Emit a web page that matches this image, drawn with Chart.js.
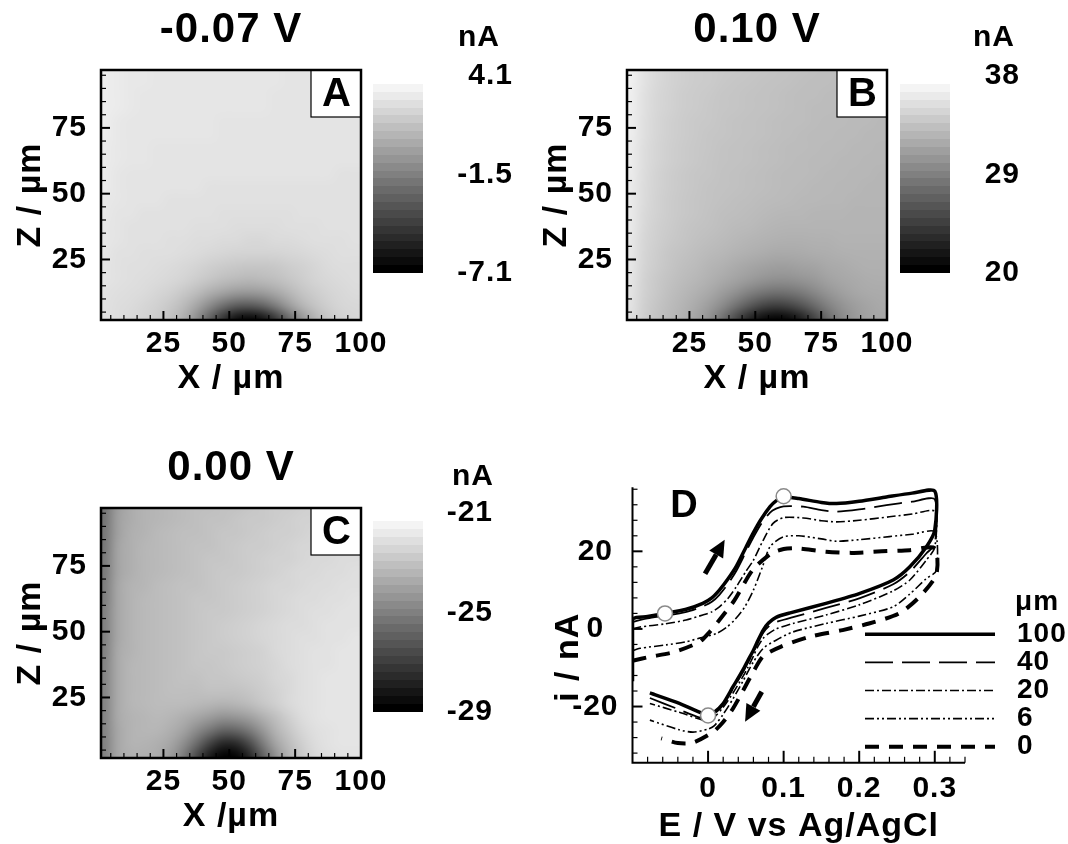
<!DOCTYPE html>
<html>
<head>
<meta charset="utf-8">
<script src="https://cdn.jsdelivr.net/npm/chart.js"></script>
<style>
  body { margin: 0; background: #fff; }
  #fig { position: relative; width: 1068px; height: 844px; overflow: hidden; background: #fff; }
  canvas { position: absolute; }
</style>
</head>
<body>
<div id="fig">
  <canvas id="mapA" width="400" height="405" style="left:0;top:0"></canvas>
  <canvas id="barA" width="140" height="318" style="left:373px;top:0"></canvas>
  <canvas id="mapB" width="400" height="405" style="left:526px;top:0"></canvas>
  <canvas id="barB" width="120" height="318" style="left:900px;top:0"></canvas>
  <canvas id="mapC" width="400" height="405" style="left:0;top:438px"></canvas>
  <canvas id="barC" width="120" height="320" style="left:373px;top:437px"></canvas>
  <canvas id="cv" width="528" height="378" style="left:540px;top:466px"></canvas>
</div>
<script>
// SECM images, nA. 5 um cells: rows from Z = 97.5 down to Z = 2.5, columns X = 2.5 ... 97.5
const mapA = [
  [3.3,3.2,3.1,3.1,3.0,3.0,3.0,3.0,3.0,3.0,3.0,3.0,3.0,3.0,2.9,2.9,2.9,2.9,2.9,2.9],
  [3.3,3.2,3.1,3.1,3.0,3.0,3.0,3.0,3.0,3.0,3.0,3.0,3.0,3.0,2.9,2.9,2.9,2.9,2.9,2.9],
  [3.3,3.2,3.1,3.0,3.0,3.0,3.0,3.0,3.0,3.0,3.0,3.0,3.0,2.9,2.9,2.9,2.9,2.9,2.9,2.9],
  [3.3,3.2,3.1,3.0,3.0,3.0,3.0,3.0,3.0,3.0,3.0,3.0,3.0,2.9,2.9,2.9,2.9,2.9,2.9,2.9],
  [3.3,3.1,3.0,3.0,3.0,3.0,3.0,3.0,3.0,2.9,2.9,2.9,2.9,2.9,2.9,2.9,2.9,2.9,2.9,2.9],
  [3.3,3.1,3.0,3.0,3.0,3.0,3.0,3.0,3.0,2.9,2.9,2.9,2.9,2.9,2.9,2.9,2.9,2.9,2.9,2.9],
  [3.2,3.1,3.0,3.0,2.9,2.9,2.9,2.9,2.9,2.9,2.9,2.9,2.9,2.9,2.9,2.9,2.9,2.9,2.9,2.9],
  [3.2,3.1,3.0,3.0,2.9,2.9,2.9,2.9,2.9,2.9,2.9,2.9,2.9,2.9,2.9,2.9,2.9,2.9,2.9,2.9],
  [3.2,3.0,2.9,2.9,2.9,2.9,2.9,2.9,2.9,2.9,2.9,2.9,2.9,2.9,2.9,2.9,2.9,2.9,2.8,2.8],
  [3.2,3.0,2.9,2.9,2.9,2.9,2.9,2.9,2.8,2.8,2.8,2.8,2.8,2.8,2.8,2.8,2.8,2.8,2.8,2.8],
  [3.1,3.0,2.9,2.9,2.9,2.8,2.8,2.8,2.8,2.8,2.8,2.8,2.8,2.8,2.8,2.8,2.8,2.8,2.8,2.8],
  [3.1,2.9,2.9,2.8,2.8,2.8,2.8,2.8,2.8,2.7,2.7,2.7,2.7,2.7,2.7,2.8,2.8,2.8,2.8,2.8],
  [3.0,2.9,2.8,2.8,2.8,2.8,2.8,2.7,2.7,2.7,2.6,2.6,2.6,2.6,2.7,2.7,2.7,2.8,2.8,2.8],
  [3.0,2.9,2.8,2.8,2.8,2.7,2.7,2.6,2.6,2.5,2.5,2.4,2.4,2.5,2.5,2.6,2.7,2.7,2.7,2.8],
  [3.0,2.8,2.8,2.7,2.7,2.7,2.6,2.5,2.4,2.3,2.2,2.2,2.2,2.2,2.3,2.4,2.5,2.6,2.7,2.7],
  [2.9,2.8,2.7,2.7,2.6,2.5,2.4,2.2,2.0,1.8,1.7,1.6,1.6,1.7,1.9,2.1,2.3,2.5,2.6,2.6],
  [2.9,2.8,2.7,2.6,2.5,2.4,2.2,1.9,1.6,1.3,1.1,1.0,1.1,1.3,1.6,1.9,2.2,2.4,2.5,2.6],
  [2.8,2.7,2.6,2.5,2.3,2.1,1.7,1.2,0.6,0.1,-0.3,-0.4,-0.2,0.3,0.9,1.5,1.9,2.2,2.4,2.5],
  [2.8,2.6,2.5,2.3,2.1,1.7,1.1,0.2,-1.0,-2.2,-3.0,-3.2,-2.7,-1.6,-0.3,0.8,1.5,2.0,2.3,2.4],
  [2.7,2.6,2.4,2.2,1.9,1.4,0.6,-0.8,-2.8,-4.8,-6.4,-6.9,-6.3,-4.7,-2.5,-0.6,0.8,1.6,2.1,2.3]
];
const mapB = [
  [37.0,36.0,35.3,34.9,34.6,34.4,34.3,34.2,34.1,34.0,33.9,33.8,33.7,33.6,33.5,33.4,33.4,33.3,33.3,33.2],
  [37.0,36.0,35.3,34.9,34.6,34.4,34.3,34.1,34.0,33.9,33.8,33.7,33.6,33.5,33.4,33.4,33.3,33.3,33.2,33.2],
  [36.9,35.9,35.2,34.8,34.5,34.3,34.2,34.0,33.9,33.8,33.7,33.6,33.5,33.4,33.4,33.3,33.3,33.2,33.2,33.1],
  [36.9,35.9,35.2,34.8,34.5,34.3,34.1,34.0,33.9,33.8,33.7,33.6,33.5,33.4,33.3,33.3,33.2,33.2,33.1,33.1],
  [36.8,35.8,35.1,34.7,34.4,34.2,34.1,33.9,33.8,33.7,33.6,33.5,33.4,33.4,33.3,33.2,33.2,33.1,33.1,33.0],
  [36.8,35.8,35.1,34.7,34.4,34.2,34.0,33.9,33.8,33.7,33.6,33.5,33.4,33.3,33.2,33.2,33.1,33.1,33.0,33.0],
  [36.7,35.7,35.0,34.6,34.3,34.1,34.0,33.8,33.7,33.6,33.5,33.4,33.3,33.3,33.2,33.1,33.1,33.0,33.0,32.9],
  [36.7,35.7,35.0,34.6,34.3,34.1,33.9,33.8,33.7,33.6,33.5,33.4,33.3,33.2,33.1,33.1,33.0,33.0,32.9,32.9],
  [36.6,35.6,34.9,34.5,34.2,34.0,33.9,33.7,33.6,33.5,33.4,33.3,33.2,33.2,33.1,33.0,33.0,32.9,32.9,32.8],
  [36.6,35.5,34.9,34.5,34.2,34.0,33.8,33.7,33.6,33.5,33.4,33.3,33.2,33.1,33.0,33.0,32.9,32.9,32.8,32.8],
  [36.6,35.5,34.8,34.4,34.1,33.9,33.8,33.6,33.5,33.4,33.3,33.2,33.1,33.0,33.0,32.9,32.9,32.8,32.8,32.8],
  [36.5,35.4,34.8,34.4,34.1,33.9,33.7,33.5,33.4,33.3,33.1,33.0,32.9,32.9,32.8,32.8,32.8,32.7,32.7,32.7],
  [36.5,35.3,34.7,34.3,34.0,33.8,33.6,33.4,33.2,33.1,32.9,32.8,32.7,32.7,32.7,32.7,32.7,32.7,32.7,32.7],
  [36.4,35.2,34.6,34.2,33.9,33.6,33.4,33.2,33.0,32.8,32.6,32.5,32.4,32.4,32.5,32.5,32.6,32.6,32.6,32.6],
  [36.4,35.1,34.5,34.0,33.7,33.4,33.1,32.9,32.6,32.4,32.2,32.0,32.0,32.1,32.2,32.3,32.4,32.5,32.5,32.5],
  [36.3,35.0,34.4,33.9,33.5,33.2,32.8,32.5,32.1,31.7,31.4,31.2,31.2,31.4,31.6,31.9,32.1,32.3,32.4,32.4],
  [36.2,34.9,34.2,33.7,33.3,32.9,32.5,32.0,31.5,31.0,30.5,30.2,30.2,30.5,30.9,31.4,31.8,32.0,32.2,32.3],
  [36.1,34.8,34.1,33.5,33.0,32.5,31.9,31.1,30.2,29.2,28.4,28.0,28.1,28.7,29.6,30.5,31.2,31.7,32.0,32.1],
  [36.0,34.7,33.9,33.3,32.7,32.0,31.1,29.8,28.1,26.4,25.0,24.4,24.8,25.9,27.5,29.1,30.3,31.1,31.6,31.9],
  [35.9,34.6,33.8,33.1,32.5,31.6,30.2,28.0,25.2,22.7,20.9,20.2,20.6,22.2,24.8,27.5,29.5,30.7,31.4,31.7]
];
const mapC = [
  [-25.4,-24.1,-23.6,-23.4,-23.3,-23.2,-23.1,-23.0,-23.0,-22.9,-22.9,-22.8,-22.7,-22.6,-22.6,-22.5,-22.4,-22.4,-22.3,-22.3],
  [-25.4,-24.0,-23.6,-23.4,-23.3,-23.2,-23.1,-23.0,-22.9,-22.9,-22.8,-22.7,-22.7,-22.6,-22.5,-22.4,-22.4,-22.3,-22.3,-22.2],
  [-25.3,-24.0,-23.5,-23.4,-23.2,-23.1,-23.0,-23.0,-22.9,-22.8,-22.8,-22.7,-22.6,-22.5,-22.5,-22.4,-22.3,-22.3,-22.2,-22.2],
  [-25.3,-23.9,-23.5,-23.3,-23.2,-23.1,-23.0,-22.9,-22.9,-22.8,-22.7,-22.6,-22.6,-22.5,-22.4,-22.3,-22.3,-22.2,-22.2,-22.1],
  [-25.2,-23.9,-23.5,-23.3,-23.2,-23.1,-23.0,-22.9,-22.8,-22.8,-22.7,-22.6,-22.5,-22.4,-22.4,-22.3,-22.2,-22.2,-22.1,-22.1],
  [-25.2,-23.9,-23.5,-23.3,-23.2,-23.1,-23.0,-22.9,-22.8,-22.7,-22.7,-22.6,-22.5,-22.4,-22.3,-22.2,-22.2,-22.1,-22.1,-22.0],
  [-25.1,-23.8,-23.4,-23.3,-23.1,-23.0,-22.9,-22.9,-22.8,-22.7,-22.6,-22.5,-22.4,-22.3,-22.3,-22.2,-22.1,-22.1,-22.0,-22.0],
  [-25.1,-23.8,-23.4,-23.2,-23.1,-23.0,-22.9,-22.8,-22.8,-22.7,-22.6,-22.5,-22.4,-22.3,-22.2,-22.1,-22.1,-22.0,-22.0,-21.9],
  [-25.0,-23.8,-23.4,-23.2,-23.1,-23.0,-22.9,-22.8,-22.7,-22.7,-22.6,-22.5,-22.4,-22.3,-22.2,-22.1,-22.0,-22.0,-21.9,-21.9],
  [-25.0,-23.8,-23.4,-23.2,-23.1,-23.0,-22.9,-22.8,-22.7,-22.6,-22.5,-22.4,-22.3,-22.2,-22.1,-22.1,-22.0,-21.9,-21.9,-21.9],
  [-25.0,-23.8,-23.4,-23.2,-23.1,-23.0,-22.9,-22.8,-22.7,-22.6,-22.5,-22.4,-22.3,-22.2,-22.1,-22.0,-22.0,-21.9,-21.9,-21.8],
  [-25.0,-23.7,-23.4,-23.2,-23.1,-23.0,-22.9,-22.8,-22.7,-22.7,-22.6,-22.5,-22.4,-22.2,-22.1,-22.0,-21.9,-21.9,-21.8,-21.8],
  [-24.9,-23.7,-23.3,-23.2,-23.1,-23.0,-22.9,-22.8,-22.8,-22.7,-22.6,-22.5,-22.4,-22.3,-22.1,-22.0,-21.9,-21.9,-21.8,-21.8],
  [-24.9,-23.7,-23.3,-23.2,-23.1,-23.0,-22.9,-22.9,-22.8,-22.8,-22.7,-22.6,-22.5,-22.3,-22.2,-22.0,-21.9,-21.8,-21.8,-21.8],
  [-24.9,-23.7,-23.3,-23.2,-23.1,-23.0,-23.0,-23.0,-22.9,-22.9,-22.9,-22.8,-22.6,-22.4,-22.2,-22.0,-21.9,-21.8,-21.8,-21.8],
  [-24.9,-23.7,-23.3,-23.2,-23.1,-23.1,-23.1,-23.2,-23.3,-23.4,-23.3,-23.1,-22.8,-22.5,-22.2,-22.0,-21.9,-21.8,-21.8,-21.8],
  [-24.9,-23.7,-23.4,-23.3,-23.2,-23.3,-23.5,-23.8,-24.1,-24.4,-24.3,-24.0,-23.5,-23.0,-22.5,-22.1,-21.9,-21.8,-21.8,-21.8],
  [-24.9,-23.8,-23.4,-23.3,-23.3,-23.5,-23.9,-24.6,-25.3,-25.9,-25.8,-25.2,-24.3,-23.4,-22.8,-22.3,-22.0,-21.9,-21.8,-21.8],
  [-25.0,-23.8,-23.4,-23.4,-23.5,-23.8,-24.5,-25.6,-26.9,-27.8,-27.7,-26.7,-25.2,-23.9,-23.1,-22.5,-22.1,-21.9,-21.8,-21.8],
  [-25.0,-23.8,-23.5,-23.5,-23.6,-24.1,-25.1,-26.7,-28.2,-29.0,-28.9,-27.9,-26.1,-24.5,-23.4,-22.7,-22.2,-22.0,-21.9,-21.9]
];
const barTicksA = [-7.1, -1.5, 4.1];
const barTicksB = [20, 29, 38];
const barTicksC = [-29, -25, -21];
const mapTicksX = [25, 50, 75, 100];
const mapTicksZ = [25, 50, 75];

// cyclic voltammograms at several tip-substrate distances (E in V, i in nA)
const depthLabels = ['100', '40', '20', '6', '0'];
const e100 = [-0.1, -0.1, -0.08, -0.057, -0.03, -0.007, 0.005, 0.015, 0.026, 0.0375, 0.05, 0.06, 0.07, 0.082, 0.09, 0.1, 0.12, 0.15, 0.17, 0.2, 0.236, 0.27, 0.3, 0.3, 0.289, 0.267, 0.245, 0.2, 0.156, 0.11, 0.09, 0.08, 0.073, 0.066, 0.06, 0.053, 0.046, 0.033, 0.02, 0.008, 0.0, -0.038, -0.077];
const i100 = [-13.5, 2.4, 3.2, 4.0, 5.0, 6.6, 8.0, 10.0, 12.8, 16.2, 21.0, 24.8, 28.2, 31.5, 33.0, 34.0, 33.6, 32.6, 32.3, 32.9, 34.0, 35.0, 35.5, 25.5, 21.2, 16.0, 12.6, 9.1, 6.6, 4.2, 3.0, 1.5, -0.3, -3.0, -5.5, -8.0, -10.6, -14.9, -19.2, -21.5, -22.3, -19.2, -16.5];
const e40 = [-0.1, -0.08, -0.057, -0.03, -0.007, 0.005, 0.015, 0.026, 0.0375, 0.05, 0.06, 0.07, 0.082, 0.09, 0.1, 0.126, 0.15, 0.17, 0.2, 0.236, 0.27, 0.3, 0.3, 0.289, 0.267, 0.245, 0.2, 0.156, 0.11, 0.09, 0.08, 0.073, 0.066, 0.06, 0.053, 0.046, 0.033, 0.02, 0.008, 0.0, -0.015, -0.038, -0.077];
const i40 = [1.8, 2.7, 3.4, 4.3, 5.8, 7.0, 8.8, 11.5, 15.0, 19.8, 23.6, 27.0, 30.0, 31.0, 31.6, 31.5, 30.6, 30.2, 30.8, 31.9, 32.8, 33.4, 21.8, 19.5, 14.7, 11.5, 7.9, 5.4, 2.9, 1.8, 0.6, -1.0, -3.5, -6.0, -8.6, -11.2, -15.4, -19.6, -22.0, -23.3, -22.6, -20.8, -17.8];
const e20 = [-0.1, -0.09, -0.057, -0.029, -0.007, 0.005, 0.015, 0.026, 0.0375, 0.05, 0.06, 0.072, 0.086, 0.1, 0.126, 0.15, 0.17, 0.2, 0.24, 0.27, 0.3, 0.3, 0.289, 0.267, 0.245, 0.2, 0.156, 0.112, 0.09, 0.08, 0.073, 0.066, 0.06, 0.053, 0.046, 0.033, 0.02, 0.008, 0.0, -0.038, -0.077];
const i20 = [0.0, 0.5, 1.3, 2.3, 3.6, 4.4, 5.7, 7.8, 10.9, 14.8, 17.7, 22.5, 27.2, 28.7, 28.6, 27.9, 27.6, 28.0, 28.9, 29.6, 30.3, 21.0, 17.8, 12.6, 9.8, 6.2, 3.6, 1.4, 0.0, -1.2, -2.4, -4.5, -7.0, -9.8, -12.3, -16.5, -20.2, -22.8, -23.8, -21.5, -19.2];
const e6 = [-0.1, -0.09, -0.055, -0.029, -0.01, 0.011, 0.025, 0.035, 0.048, 0.06, 0.072, 0.082, 0.099, 0.12, 0.15, 0.17, 0.2, 0.24, 0.27, 0.3, 0.302, 0.289, 0.267, 0.245, 0.2, 0.156, 0.112, 0.09, 0.073, 0.06, 0.046, 0.033, 0.02, 0.008, 0.0, -0.02, -0.038, -0.077];
const i6 = [-5.6, -5.0, -4.1, -3.3, -2.3, -1.2, 0.5, 2.3, 5.5, 10.0, 16.0, 21.2, 23.7, 24.0, 23.2, 22.6, 23.0, 23.8, 24.4, 25.0, 15.0, 13.0, 9.0, 5.7, 3.3, 1.4, -0.8, -2.9, -5.0, -8.5, -13.5, -18.0, -22.0, -25.0, -25.8, -26.6, -26.0, -23.5];
const e0 = [-0.1, -0.077, -0.044, -0.011, 0.002, 0.015, 0.035, 0.059, 0.084, 0.1, 0.115, 0.156, 0.19, 0.23, 0.267, 0.3, 0.302, 0.28, 0.253, 0.213, 0.178, 0.135, 0.096, 0.073, 0.06, 0.046, 0.033, 0.02, 0.007, -0.02, -0.04, -0.062];
const i0 = [-8.2, -7.2, -5.9, -3.3, -0.8, 2.3, 7.4, 15.2, 19.5, 20.6, 20.8, 19.9, 19.6, 20.0, 20.3, 20.8, 14.0, 8.3, 4.0, 1.4, -0.3, -2.0, -4.6, -7.0, -11.0, -16.0, -20.5, -24.0, -26.5, -29.3, -29.4, -28.2];
// potentials of the three images (open circles)
const markerE = [-0.057, 0.1, 0.0];
const markerI = [4.0, 34.2, -22.3];
// scan direction arrows [E, i]
const arrowTail = [[-0.004, 14.2], [0.071, -16.2]];
const arrowTip = [[0.022, 23.0], [0.049, -23.9]];
const cvTicksE = [0, 0.1, 0.2, 0.3];
const cvTicksI = [-20, 0, 20];

const FONT = '"Liberation Sans", Arial, Helvetica, sans-serif';
Chart.defaults.font.family = FONT;
Chart.defaults.font.weight = 'bold';
Chart.defaults.font.size = 30;
Chart.defaults.color = '#000';

// the original lettering is set a little wide
Chart.register({
  id: 'spacing',
  beforeUpdate(chart) { chart.ctx.letterSpacing = '1px'; },
  beforeDraw(chart) { chart.ctx.letterSpacing = '1px'; }
});

function heatLayer(grid, lo, hi) {
  return {
    id: 'heat',
    beforeDatasetsDraw(chart) {
      const { ctx, chartArea: a, scales: { x, y } } = chart;
      const rows = grid.length, cols = grid[0].length;
      const small = document.createElement('canvas');
      small.width = cols; small.height = rows;
      const sctx = small.getContext('2d');
      const img = sctx.createImageData(cols, rows);
      grid.forEach((row, r) => row.forEach((v, c) => {
        const g = Math.round(Math.max(0, Math.min(1, (v - lo) / (hi - lo))) * 255);
        const k = (r * cols + c) * 4;
        img.data[k] = img.data[k + 1] = img.data[k + 2] = g;
        img.data[k + 3] = 255;
      }));
      sctx.putImageData(img, 0, 0);
      const x0 = x.getPixelForValue(0), x1 = x.getPixelForValue(cols * 5);
      const yt = y.getPixelForValue(rows * 5), yb = y.getPixelForValue(0);
      ctx.save();
      ctx.beginPath();
      ctx.rect(a.left, a.top, a.width, a.height);
      ctx.clip();
      ctx.imageSmoothingEnabled = true;
      ctx.imageSmoothingQuality = 'high';
      ctx.drawImage(small, x0, yt, x1 - x0, yb - yt);
      ctx.restore();
    }
  };
}

// inward ticks + frame
function marks(spec) {
  return {
    id: 'marks',
    afterDraw(chart) {
      const { ctx, chartArea: a, scales: { x, y } } = chart;
      ctx.save();
      ctx.strokeStyle = '#000';
      const isMajor = (list, v) => list.some(m => Math.abs(m - v) < 1e-6);
      let n = Math.round((spec.x.to - spec.x.from) / spec.x.step);
      for (let i = 0; i <= n; i++) {
        const v = spec.x.from + i * spec.x.step;
        const big = isMajor(spec.x.major, v);
        const px = x.getPixelForValue(v);
        ctx.lineWidth = big ? 2 : 1.2;
        ctx.beginPath();
        ctx.moveTo(px, a.bottom);
        ctx.lineTo(px, a.bottom - (big ? spec.x.long : spec.x.short));
        ctx.stroke();
      }
      n = Math.round((spec.y.to - spec.y.from) / spec.y.step);
      for (let i = 0; i <= n; i++) {
        const v = spec.y.from + i * spec.y.step;
        const big = isMajor(spec.y.major, v);
        const py = y.getPixelForValue(v);
        ctx.lineWidth = big ? 2 : 1.2;
        ctx.beginPath();
        ctx.moveTo(a.left, py);
        ctx.lineTo(a.left + (big ? spec.y.long : spec.y.short), py);
        ctx.stroke();
      }
      ctx.lineWidth = spec.frame;
      if (spec.box) {
        ctx.strokeRect(a.left, a.top, a.width, a.height);
      } else {
        ctx.beginPath();
        ctx.moveTo(a.left, a.top);
        ctx.lineTo(a.left, a.bottom);
        ctx.lineTo(a.right, a.bottom);
        ctx.stroke();
      }
      ctx.restore();
    }
  };
}

function panelTag(text) {
  return {
    id: 'tag',
    afterDraw(chart) {
      const { ctx, chartArea: a } = chart;
      ctx.save();
      ctx.fillStyle = '#fff';
      ctx.fillRect(a.right - 50, a.top, 50, 47);
      ctx.strokeStyle = '#000';
      ctx.lineWidth = 1.2;
      ctx.strokeRect(a.right - 50, a.top, 50, 47);
      ctx.fillStyle = '#000';
      ctx.font = 'bold 40px ' + FONT;
      ctx.textAlign = 'center';
      ctx.textBaseline = 'middle';
      ctx.fillText(text, a.right - 24, a.top + 25);
      ctx.restore();
    }
  };
}

function unitText(text, dx, dy) {
  return {
    id: 'unit',
    afterDraw(chart) {
      const { ctx, chartArea: a } = chart;
      ctx.save();
      ctx.font = 'bold 30px ' + FONT;
      ctx.fillStyle = '#000';
      ctx.textAlign = 'center';
      ctx.textBaseline = 'middle';
      ctx.fillText(text, a.right + dx, a.top + dy);
      ctx.restore();
    }
  };
}

function grayRamp(chart, levels) {
  const a = chart.chartArea;
  if (!a) return '#888';
  const g = chart.ctx.createLinearGradient(0, a.bottom, 0, a.top);
  for (let i = 0; i < levels; i++) {
    const c = Math.round(i / (levels - 1) * 255);
    const col = 'rgb(' + c + ',' + c + ',' + c + ')';
    g.addColorStop(i / levels, col);
    g.addColorStop((i + 1) / levels, col);
  }
  return g;
}

function heatChart(id, title, xTitle, grid, lo, hi, tag) {
  return new Chart(document.getElementById(id), {
    type: 'scatter',
    data: { datasets: [] },
    options: {
      responsive: false,
      animation: false,
      layout: { padding: { left: 0, right: 39, top: 0, bottom: 0 } },
      plugins: {
        legend: { display: false },
        tooltip: { enabled: false },
        title: {
          display: true, text: title, fullSize: false, color: '#000',
          font: { size: 42, lineHeight: 1 }, padding: { top: 9, bottom: 19 }
        }
      },
      scales: {
        x: {
          type: 'linear', min: 1.3, max: 100,
          grid: { display: false }, border: { display: false },
          afterBuildTicks: s => { s.ticks = mapTicksX.map(v => ({ value: v })); },
          afterFit: s => { s.height = 85; },
          ticks: { padding: 1, maxRotation: 0, autoSkip: false, font: { size: 30, lineHeight: 1 }, callback: v => String(v) },
          title: { display: true, text: xTitle, font: { size: 34, lineHeight: 1 }, padding: { bottom: 9 } }
        },
        y: {
          type: 'linear', min: 2, max: 97,
          grid: { display: false }, border: { display: false },
          afterBuildTicks: s => { s.ticks = mapTicksZ.map(v => ({ value: v })); },
          afterFit: s => { s.width = 101; },
          ticks: { padding: 6, autoSkip: false, font: { size: 30, lineHeight: 1 }, callback: v => String(v) },
          title: { display: true, text: 'Z / µm', font: { size: 34, lineHeight: 1 }, padding: { top: 14 } }
        }
      }
    },
    plugins: [
      heatLayer(grid, lo, hi),
      panelTag(tag),
      marks({
        frame: 2.5, box: true,
        x: { from: 5, to: 100, step: 5, major: mapTicksX, long: 9, short: 5 },
        y: { from: 5, to: 95, step: 5, major: mapTicksZ, long: 9, short: 5 }
      })
    ]
  });
}

function colorBar(id, ticks, width, pad, dx, dy) {
  const lo = ticks[0], hi = ticks[ticks.length - 1];
  return new Chart(document.getElementById(id), {
    type: 'bar',
    data: {
      labels: [''],
      datasets: [{
        data: [[lo, hi]],
        backgroundColor: c => grayRamp(c.chart, 25),
        borderWidth: 0, barPercentage: 1, categoryPercentage: 1
      }]
    },
    options: {
      responsive: false,
      animation: false,
      layout: { padding: { left: 0, right: 0, top: 76, bottom: 45 } },
      plugins: { legend: { display: false }, tooltip: { enabled: false } },
      scales: {
        x: { display: false },
        y: {
          position: 'right', min: lo, max: hi,
          grid: { display: false }, border: { display: false },
          afterBuildTicks: s => { s.ticks = ticks.map(v => ({ value: v })); },
          afterFit: s => { s.width = width - 50; },
          ticks: { padding: pad, crossAlign: 'far', font: { size: 30, lineHeight: 1 }, callback: v => String(v) }
        }
      }
    },
    plugins: [unitText('nA', dx, dy)]
  });
}

heatChart('mapA', '-0.07 V', 'X / µm', mapA, -7.1, 4.1, 'A');
colorBar('barA', barTicksA, 140, 27, 56, -38);
heatChart('mapB', '0.10 V', 'X / µm', mapB, 20, 38, 'B');
colorBar('barB', barTicksB, 120, 25, 44, -38);
heatChart('mapC', '0.00 V', 'X /µm', mapC, -29, -21, 'C');
colorBar('barC', barTicksC, 120, 14, 50, -36);

// ---- panel D ----
const pts = (es, is) => es.map((e, k) => ({ x: e, y: is[k] }));
const curveStyle = [
  { w: 3.5, dash: [] },
  { w: 1.8, dash: [28, 9] },
  { w: 1.6, dash: [9, 3, 2, 3] },
  { w: 1.6, dash: [9, 3, 2, 3, 2, 3] },
  { w: 4, dash: [14, 10] }
];
const curves = [[e100, i100], [e40, i40], [e20, i20], [e6, i6], [e0, i0]];

const cvExtras = {
  id: 'cvExtras',
  afterDraw(chart) {
    const { ctx, chartArea: a, scales: { x, y } } = chart;
    ctx.save();
    ctx.fillStyle = '#000';
    ctx.strokeStyle = '#000';
    arrowTail.forEach((t, k) => {
      const x0 = x.getPixelForValue(t[0]), y0 = y.getPixelForValue(t[1]);
      const x1 = x.getPixelForValue(arrowTip[k][0]), y1 = y.getPixelForValue(arrowTip[k][1]);
      const ang = Math.atan2(y1 - y0, x1 - x0);
      const head = 17, half = 8;
      const bx = x1 - head * Math.cos(ang), by = y1 - head * Math.sin(ang);
      ctx.lineWidth = 5;
      ctx.beginPath();
      ctx.moveTo(x0, y0);
      ctx.lineTo(bx, by);
      ctx.stroke();
      ctx.beginPath();
      ctx.moveTo(x1, y1);
      ctx.lineTo(bx + half * Math.sin(ang), by - half * Math.cos(ang));
      ctx.lineTo(bx - half * Math.sin(ang), by + half * Math.cos(ang));
      ctx.closePath();
      ctx.fill();
    });
    // legend
    ctx.font = 'bold 28px ' + FONT;
    ctx.textAlign = 'left';
    ctx.textBaseline = 'middle';
    ctx.fillText('μm', a.right + 50, a.top + 115);
    chart.data.datasets.forEach(ds => {
      if (!ds.label) return;
      const k = depthLabels.indexOf(ds.label);
      const ly = a.top + 147 + k * 28.1;
      ctx.save();
      ctx.lineWidth = ds.borderWidth;
      ctx.setLineDash(ds.borderDash);
      ctx.beginPath();
      ctx.moveTo(a.right - 100, ly);
      ctx.lineTo(a.right + 30, ly);
      ctx.stroke();
      ctx.restore();
      ctx.fillText(ds.label, a.right + 52, ly);
    });
    ctx.font = 'bold 38px ' + FONT;
    ctx.textAlign = 'center';
    ctx.fillText('D', a.left + 52, a.top + 19);
    ctx.translate(a.left - 64, y.getPixelForValue(-7.3));
    ctx.rotate(-Math.PI / 2);
    ctx.font = 'bold 34px ' + FONT;
    ctx.fillText('i / nA', 0, 0);
    ctx.restore();
  }
};

new Chart(document.getElementById('cv'), {
  type: 'scatter',
  data: {
    datasets: [{
      label: '',
      data: pts(markerE, markerI),
      pointRadius: 7.5,
      pointBackgroundColor: '#fff',
      pointBorderColor: '#8a8a8a',
      pointBorderWidth: 1.5,
      showLine: false
    }].concat(curves.map((c, k) => ({
      label: depthLabels[k],
      data: pts(c[0], c[1]),
      showLine: true,
      pointRadius: 0,
      borderColor: '#000',
      borderWidth: curveStyle[k].w,
      borderDash: curveStyle[k].dash,
      tension: 0.25,
      fill: false
    })))
  },
  options: {
    responsive: false,
    animation: false,
    layout: { padding: { left: 0, right: 103, top: 21.3, bottom: 0 } },
    plugins: { legend: { display: false }, tooltip: { enabled: false } },
    scales: {
      x: {
        type: 'linear', min: -0.1, max: 0.34,
        grid: { display: false }, border: { display: false },
        afterBuildTicks: s => { s.ticks = cvTicksE.map(v => ({ value: v })); },
        afterFit: s => { s.height = 81.2; },
        ticks: { padding: 3, maxRotation: 0, autoSkip: false, font: { size: 30, lineHeight: 1 }, callback: v => String(v) },
        title: { display: true, text: 'E / V vs Ag/AgCl', font: { size: 34, lineHeight: 1 }, padding: { bottom: 0 } }
      },
      y: {
        type: 'linear', min: -34.5, max: 36.5,
        grid: { display: false }, border: { display: false },
        afterBuildTicks: s => { s.ticks = cvTicksI.map(v => ({ value: v })); },
        afterFit: s => { s.width = 92.5; },
        ticks: { padding: 6, crossAlign: 'center', autoSkip: false, font: { size: 30, lineHeight: 1 }, callback: v => String(v) }
      }
    }
  },
  plugins: [
    marks({
      frame: 2, box: false,
      x: { from: -0.08, to: 0.34, step: 0.02, major: cvTicksE, long: 12, short: 6 },
      y: { from: -32, to: 36, step: 4, major: cvTicksI, long: 10, short: 5 }
    }),
    cvExtras
  ]
});
</script>
</body>
</html>
